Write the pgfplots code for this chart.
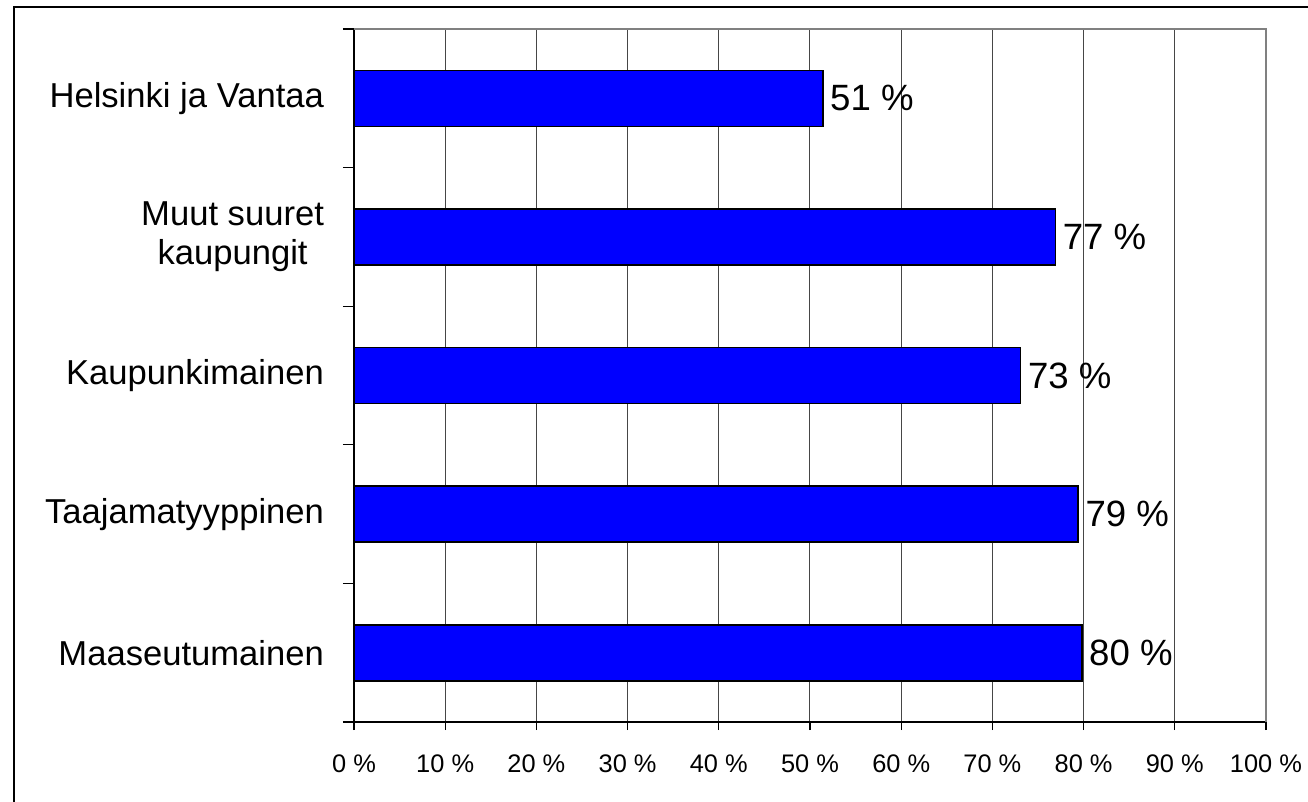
\documentclass[border=0pt]{standalone}
\usepackage{pgfplots}
\pgfplotsset{compat=1.18}
\usepackage{fontspec}
\setmainfont{Liberation Sans}
\definecolor{barblue}{RGB}{0,0,255}
\definecolor{gridgray}{RGB}{70,70,70}

\begin{document}
\begin{tikzpicture}
\begin{axis}[
  name=ax,
  scale only axis,
  width=456pt, height=346.5pt,
  xbar, bar width=28pt,
  xmin=0, xmax=100,
  ymin=-0.5, ymax=4.5,
  y dir=reverse,
  axis x line*=bottom, axis y line*=left,
  axis line style={-, line width=0.8pt},
  tick align=outside,
  major tick length=4pt,
  minor tick length=5.5pt,
  tick style={black, line width=0.6pt},
  xtick={0,10,20,30,40,50,60,70,80,90,100},
  xticklabels={0 \%,10 \%,20 \%,30 \%,40 \%,50 \%,60 \%,70 \%,80 \%,90 \%,100 \%},
  xticklabel style={font=\fontsize{12.7}{14}\selectfont, yshift=-9pt},
  ytick={0,1,2,3,4},
  yticklabels={Helsinki ja Vantaa, Muut suuret\\kaupungit, Kaupunkimainen, Taajamatyyppinen, Maaseutumainen},
  yticklabel style={align=center, font=\fontsize{17.3}{19.5}\selectfont, xshift=-7.5pt},
  minor ytick={-0.5,0.5,1.5,2.5,3.5,4.5},
  major y tick style={draw=none},
  xmajorgrids,
  grid style={gridgray, line width=0.5pt},
  /pgf/number format/assume math mode=true,
  nodes near coords={\pgfmathprintnumber[fixed,precision=0]{\pgfplotspointmeta}~\%},
  every node near coord/.append style={font=\fontsize{18.3}{20}\selectfont, anchor=west, xshift=0pt, black},
  clip=false,
]
\addplot[fill=barblue, draw=black, line width=0.8pt] coordinates {
  (51.4,0) (76.9,1) (73.1,2) (79.4,3) (79.8,4)
};
\end{axis}
\draw[gray, line width=0.6pt] (ax.north west) -- (ax.north east) -- (ax.south east);
\draw[line width=1pt] ([shift={(-170pt,-80pt)}]ax.south west) -- ([shift={(-170pt,11pt)}]ax.north west) -- ([shift={(80pt,11pt)}]ax.north east);
\pgfresetboundingbox
\path ([shift={(-177pt,-40pt)}]ax.south west) rectangle ([shift={(21pt,14.5pt)}]ax.north east);
\end{tikzpicture}
\end{document}
